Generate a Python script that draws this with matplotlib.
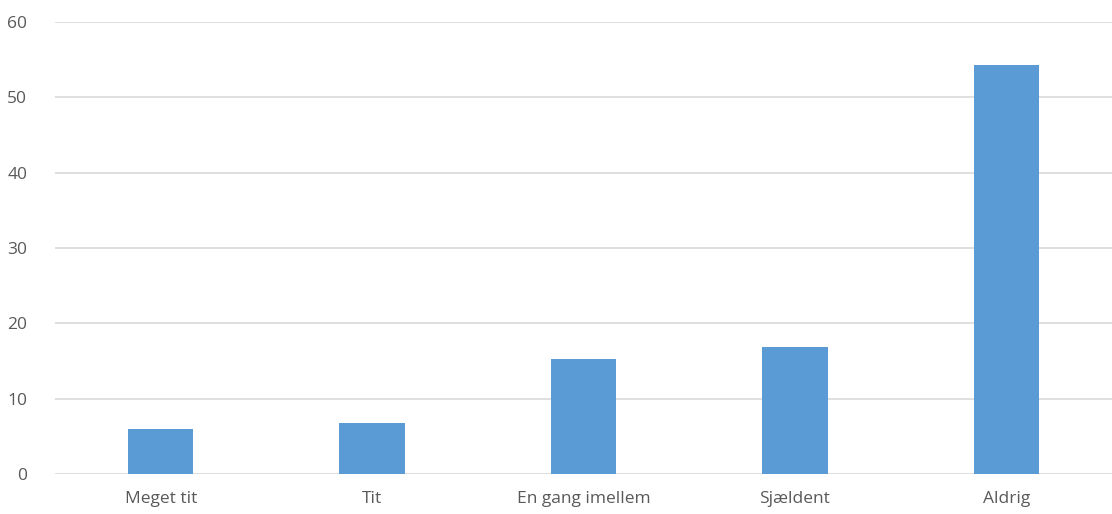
import matplotlib
matplotlib.use('Agg')
import matplotlib.pyplot as plt

categories = ['Meget tit', 'Tit', 'En gang imellem', 'Sjældent', 'Aldrig']
values = [6.0, 6.8, 15.3, 16.9, 54.3]
yticks = [0, 10, 20, 30, 40, 50, 60]

plt.rcParams['font.family'] = ['Open Sans', 'DejaVu Sans']

fig = plt.figure(figsize=(11.12, 5.14), dpi=100)
ax = fig.add_axes([55 / 1112, 1 - 474 / 514, 1 - 55 / 1112, (474 - 22) / 514])

x = range(len(categories))
ax.bar(x, values, width=0.31, color='#5B9BD5', zorder=3)

ax.set_xlim(-0.5, len(categories) - 0.5)
ax.set_ylim(0, 60)
ax.set_yticks(yticks)
ax.set_xticks(list(x))
ax.set_xticklabels(categories)
ax.grid(axis='y', color='#d9d9d9', linewidth=1.2, zorder=0)
for s in ax.spines.values():
    s.set_visible(False)
ax.tick_params(length=0, labelsize=12.5, labelcolor='#595959')
ax.tick_params(axis='y', pad=20)
ax.tick_params(axis='x', pad=12)

fig.savefig('out.png', dpi=100)
